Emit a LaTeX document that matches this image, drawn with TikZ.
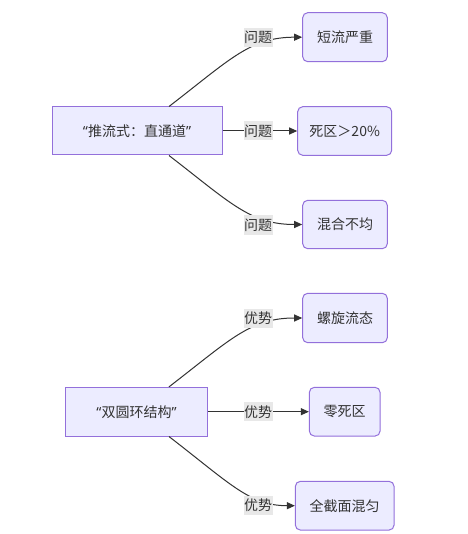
\documentclass[tikz,border=0pt]{standalone}
\usepackage{fontspec}
\setmainfont{Noto Sans CJK SC}
\newfontfamily\qf{Noto Sans}
\usetikzlibrary{arrows.meta}
\definecolor{boxfill}{HTML}{ECECFF}
\definecolor{boxline}{HTML}{9370DB}
\definecolor{txt}{HTML}{333333}
\definecolor{lblbg}{HTML}{E8E8E8}
\tikzset{
  base/.style={draw=boxline, fill=boxfill, line width=1pt, text=txt, inner sep=0pt,
    font=\fontsize{14pt}{16pt}\selectfont},
  srcbox/.style={base},
  dstbox/.style={base, rounded corners=5pt},
  edge/.style={draw=txt, line width=1pt, -{Triangle[length=8pt,width=7pt]}},
  lbl/.style={fill=lblbg, text=txt, inner sep=0pt, minimum width=29pt, minimum height=19pt,
    font=\fontsize{14pt}{16pt}\selectfont}
}
\begin{document}
\begin{tikzpicture}[x=1pt,y=-1pt]
\useasboundingbox[fill=white] (0,0) rectangle (467,534);
% group 1
\node[srcbox, minimum width=170pt, minimum height=48pt] (A) at (137,131) {{\qf “}推流式：直通道{\qf ”}};
\node[dstbox, minimum width=84.6pt, minimum height=49pt] (a1) at (345,37.2) {短流严重};
\node[dstbox, minimum width=94pt, minimum height=48.6pt] (a2) at (344.7,131) {死区＞20\%};
\node[dstbox, minimum width=84.6pt, minimum height=48.4pt] (a3) at (345,224.5) {混合不均};
% group 2
\node[srcbox, minimum width=141.6pt, minimum height=48.7pt] (B) at (136.5,411.7) {{\qf “}双圆环结构{\qf ”}};
\node[dstbox, minimum width=84.6pt, minimum height=49.4pt] (b1) at (345,318) {螺旋流态};
\node[dstbox, minimum width=70.7pt, minimum height=48.7pt] (b2) at (344.7,411.7) {零死区};
\node[dstbox, minimum width=98.7pt, minimum height=48.7pt] (b3) at (344.7,505.7) {全截面混匀};
% edges
\draw[edge] ([xshift=32pt]A.north) .. controls +(61,-47) and +(-52,0) .. (a1.west);
\draw[edge] (A.east) -- (a2.west);
\draw[edge] ([xshift=32pt]A.south) .. controls +(61,47) and +(-52,0) .. (a3.west);
\draw[edge] ([xshift=32.5pt]B.north) .. controls +(61,-47) and +(-52,0) .. (b1.west);
\draw[edge] (B.east) -- (b2.west);
\draw[edge] ([xshift=32.5pt]B.south) .. controls +(61,47) and +(-45,0) .. (b3.west);
% labels
\node[lbl] (l1) at (258,37.5) {问题};
\node[lbl] (l2) at (258,131) {问题};
\node[lbl] (l3) at (258,225) {问题};
\node[lbl] (l4) at (258,318) {优势};
\node[lbl] (l5) at (258,411.7) {优势};
\node[lbl] (l6) at (258,505) {优势};
\end{tikzpicture}
\end{document}
